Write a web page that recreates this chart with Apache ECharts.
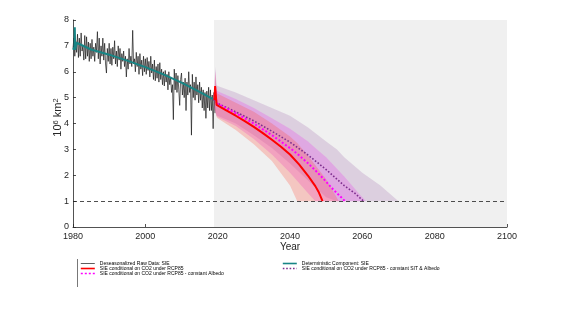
<!DOCTYPE html>
<html>
<head>
<meta charset="utf-8">
<script src="https://cdn.jsdelivr.net/npm/echarts@6/dist/echarts.min.js"></script>
<style>
html,body{margin:0;padding:0;background:#fff;}
#chart{width:561px;height:316px;}
</style>
</head>
<body>
<div id="chart"></div>
<script>
// ---------- DATA ----------
const xTicks = [1980, 2000, 2020, 2040, 2060, 2080, 2100];
const yTicks = [0, 1, 2, 3, 4, 5, 6, 7, 8];

// Deseasonalized raw data (quarterly samples from 1980.0)
const rawStartYear = 1980;
const rawStep = 0.25;
const rawValues = [
  6.9, 7.3, 6.6, 7.2,
  6.75, 7.45, 6.55, 7.3,
  6.6, 7.5, 6.8, 7.0,
  6.45, 7.4, 6.5, 7.35,
  6.6, 7.15, 6.4, 7.1,
  6.5, 7.25, 6.6, 6.95,
  6.4, 7.1, 6.75, 7.55,
  6.5, 7.3, 6.3, 7.0,
  6.6, 7.3, 6.45, 7.1,
  6.3, 5.95, 6.9, 6.4,
  7.1, 6.3, 6.9, 6.25,
  6.95, 6.5, 7.2, 6.3,
  6.8, 6.2, 7.0, 6.45,
  6.9, 6.1, 6.7, 6.4,
  6.8, 6.2, 6.6, 5.8,
  6.5, 6.1, 6.9, 6.3,
  6.6, 6.2, 7.6, 6.3,
  6.5, 6.0, 6.75, 6.2,
  6.6, 5.9, 6.7, 6.1,
  6.45, 5.85, 6.6, 6.0,
  6.5, 5.9, 6.55, 6.05,
  6.4, 5.8, 6.6, 5.95,
  6.3, 5.7, 6.45, 5.65,
  6.2, 5.75, 6.3, 5.6,
  6.35, 5.7, 6.1, 5.5,
  6.0, 5.45, 6.05, 5.6,
  5.9, 5.3, 6.0, 5.5,
  5.8, 5.2, 5.5, 4.15,
  6.1, 5.3, 5.95, 5.2,
  5.85, 5.3, 4.7, 5.7,
  5.95, 5.1, 5.6, 5.0,
  5.75, 4.5, 5.6, 5.1,
  6.0, 5.2, 5.5, 3.55,
  5.9, 5.0, 5.6, 4.9,
  5.8, 5.1, 5.5, 4.8,
  5.6, 4.9, 5.4, 4.6,
  5.3, 4.5, 5.2, 4.2,
  5.25, 4.6, 5.4, 4.5,
  5.3, 4.5, 5.1, 3.8,
  5.2, 4.4
];

// Deterministic component
const detYears  = [1980.0, 1980.4, 1980.5, 1980.6, 1981.0, 1981.4, 1985, 1990, 1995, 2000, 2005, 2010, 2015, 2019.2];
const detValues = [6.85,   6.95,   7.72,   6.85,   7.12,   7.05,   6.86, 6.66, 6.43, 6.18, 5.9,  5.58, 5.22, 4.9];

// SIE conditional on CO2 under RCP85
const redYears  = [2019.1, 2019.3, 2019.7, 2020, 2022.5, 2025, 2027.5, 2030, 2032.5, 2035, 2037.5, 2040, 2042.5, 2045, 2047, 2048, 2049];
const redValues = [4.9,    5.45,   4.72,   4.68, 4.5,    4.3,  4.09,   3.87, 3.63,   3.37, 3.1,    2.8,  2.42,   1.98, 1.58, 1.33, 1.0];

// ... constant Albedo
const magYears  = [2019.1, 2019.3, 2019.7, 2020, 2025, 2030, 2035, 2040, 2042.5, 2045, 2047.5, 2050, 2052, 2054, 2055.2];
const magValues = [4.9,    5.3,    4.78,   4.73, 4.4,  4.0,  3.55, 3.05, 2.77,   2.46, 2.12,   1.75, 1.44, 1.17, 1.0];

// ... constant SIT & Albedo
const purYears  = [2019.1, 2019.3, 2019.7, 2020, 2025, 2030, 2035, 2040, 2045, 2050, 2055, 2058, 2060.3];
const purValues = [4.9,    5.2,    4.8,    4.75, 4.45, 4.1,  3.7,  3.28, 2.78, 2.22, 1.6,  1.3,  1.0];

// Uncertainty bands (lower / upper)
const redBandYears = [2019.1, 2019.3, 2019.7, 2020, 2025, 2030, 2035, 2040, 2042, 2045, 2050, 2053.5];
const redBandLow   = [4.6,    4.5,    4.25,   4.2,  3.75, 3.2,  2.55, 1.6,  1.0,  1.0,  1.0,  1.0];
const redBandHigh  = [5.0,    6.0,    5.2,    5.15, 4.8,  4.45, 4.0,  3.5,  3.25, 2.75, 1.85, 1.0];

const magBandYears = [2019.1, 2019.3, 2019.7, 2020, 2025, 2030, 2035, 2040, 2045, 2047, 2050, 2055, 2059, 2061];
const magBandLow   = [4.6,    4.5,    4.3,    4.25, 3.9,  3.4,  2.8,  2.1,  1.3,  1.0,  1.0,  1.0,  1.0,  1.0];
const magBandHigh  = [5.0,    6.1,    5.3,    5.25, 4.95, 4.6,  4.2,  3.8,  3.3,  3.05, 2.7,  1.95, 1.3,  1.0];

const purBandYears = [2019.1, 2019.3, 2019.7, 2020, 2025, 2030, 2035, 2040, 2045, 2050, 2053, 2055, 2060, 2065, 2070];
const purBandLow   = [4.6,    4.5,    4.3,    4.3,  4.0,  3.55, 3.05, 2.45, 1.8,  1.15, 1.0,  1.0,  1.0,  1.0,  1.0];
const purBandHigh  = [5.0,    6.2,    5.5,    5.45, 5.2,  4.9,  4.6,  4.3,  3.85, 3.3,  3.0,  2.7,  2.1,  1.6,  1.0];

const forecastStart = 2019;
const threshold = 1;

const names = {
  raw: 'Deseasonalized Raw Data: SIE',
  det: 'Deterministic Component: SIE',
  red: 'SIE conditional on CO2 under RCP85',
  pur: 'SIE conditional on CO2 under RCP85 - constant SIT & Albedo',
  mag: 'SIE conditional on CO2 under RCP85 - constant Albedo'
};

// ---------- BUILD ----------
const pairs = (xs, ys) => xs.map((x, i) => [x, ys[i]]);
const rawData = rawValues.map((v, i) => [rawStartYear + i * rawStep, v]);

function bandSeries(id, xs, low, high, color) {
  return {
    name: id, type: 'custom', silent: true, z: 2,
    data: xs.map((x, i) => [x, low[i], high[i]]),
    encode: { x: 0, y: [1, 2] },
    renderItem: function (params, api) {
      if (params.dataIndex !== 0) return null;
      const pts = [];
      for (let i = 0; i < xs.length; i++) pts.push(api.coord([xs[i], high[i]]));
      for (let i = xs.length - 1; i >= 0; i--) pts.push(api.coord([xs[i], low[i]]));
      return { type: 'polygon', shape: { points: pts }, style: { fill: color, stroke: null } };
    }
  };
}

const axisColor = '#262626';
const font = 'Liberation Sans, Helvetica, Arial, sans-serif';

const chart = echarts.init(document.getElementById('chart'), null, { renderer: 'canvas' });
chart.setOption({
  animation: false,
  backgroundColor: '#ffffff',
  textStyle: { fontFamily: font },
  grid: { left: 73, right: 54, top: 20, bottom: 89, containLabel: false },
  xAxis: {
    type: 'value', min: xTicks[0], max: xTicks[xTicks.length - 1], interval: 20,
    axisLine: { show: true, lineStyle: { color: axisColor, width: 0.8 } },
    axisTick: { show: true, inside: true, length: 3, lineStyle: { color: axisColor, width: 0.8 } },
    axisLabel: { fontSize: 9, color: axisColor, margin: 5, fontFamily: font, formatter: v => String(v) },
    splitLine: { show: false },
    name: 'Year', nameLocation: 'middle', nameGap: 15, nameMoveOverlap: false,
    nameTextStyle: { fontSize: 10, color: axisColor, fontFamily: font }
  },
  yAxis: {
    type: 'value', min: yTicks[0], max: yTicks[yTicks.length - 1], interval: 1,
    axisLine: { show: true, lineStyle: { color: axisColor, width: 0.8 } },
    axisTick: { show: true, inside: true, length: 3, lineStyle: { color: axisColor, width: 0.8 } },
    axisLabel: { fontSize: 9, color: axisColor, margin: 4, fontFamily: font, formatter: v => String(v) },
    splitLine: { show: false },
    name: '{b|10}{s|6}{b| km}{s|2}', nameLocation: 'middle', nameGap: 10, nameMoveOverlap: false,
    nameTextStyle: {
      color: axisColor, fontFamily: font, padding: [0, 0, 0, 12],
      rich: {
        b: { fontSize: 11, color: axisColor, fontFamily: font, lineHeight: 11, verticalAlign: 'bottom' },
        s: { fontSize: 7.5, color: axisColor, fontFamily: font, lineHeight: 8, verticalAlign: 'top' }
      }
    }
  },
  legend: [
    {
      left: 80, top: 261, orient: 'vertical', padding: 0, itemGap: 0,
      itemWidth: 14, itemHeight: 5,
      itemStyle: { opacity: 0 },
      textStyle: { fontSize: 5, lineHeight: 5, color: '#000', fontFamily: font },
      data: [
        { name: names.raw, lineStyle: { width: 0.7 } },
        { name: names.red, lineStyle: { width: 1.6 } },
        { name: names.mag, lineStyle: { width: 1.6 } }
      ]
    },
    {
      left: 282, top: 261, orient: 'vertical', padding: 0, itemGap: 0,
      itemWidth: 14, itemHeight: 5,
      itemStyle: { opacity: 0 },
      textStyle: { fontSize: 5, lineHeight: 5, color: '#000', fontFamily: font },
      data: [
        { name: names.det, lineStyle: { width: 1.6 } },
        { name: names.pur, lineStyle: { width: 1.4 } }
      ]
    }
  ],
  graphic: [
    { type: 'line', shape: { x1: 77.5, y1: 259, x2: 77.5, y2: 287 }, style: { stroke: '#555', lineWidth: 0.8 }, silent: true }
  ],
  series: [
    {
      name: names.raw, type: 'line', data: rawData, symbol: 'none', z: 1,
      lineStyle: { color: '#1a1a1a', width: 0.7 }, itemStyle: { color: '#1a1a1a' },
      markArea: {
        silent: true, itemStyle: { color: '#f0f0f0' },
        data: [[{ xAxis: forecastStart }, { xAxis: xTicks[xTicks.length - 1] }]]
      }
    },
    bandSeries('pb', purBandYears, purBandLow, purBandHigh, 'rgba(126,47,142,0.17)'),
    bandSeries('mb', magBandYears, magBandLow, magBandHigh, 'rgba(235,70,235,0.28)'),
    bandSeries('rb', redBandYears, redBandLow, redBandHigh, 'rgba(255,70,50,0.25)'),
    {
      name: names.det, type: 'line', data: pairs(detYears, detValues), symbol: 'none', z: 3,
      lineStyle: { color: '#178585', width: 2 }, itemStyle: { color: '#178585' }
    },
    {
      name: names.pur, type: 'line', data: pairs(purYears, purValues), symbol: 'none', z: 4,
      lineStyle: { color: '#7E2F8E', width: 1.6, type: [1.6, 1.8] }, itemStyle: { color: '#7E2F8E' }
    },
    {
      name: names.mag, type: 'line', data: pairs(magYears, magValues), symbol: 'none', z: 4,
      lineStyle: { color: '#ff00ff', width: 2, type: [2, 2] }, itemStyle: { color: '#ff00ff' }
    },
    {
      name: names.red, type: 'line', data: pairs(redYears, redValues), symbol: 'none', z: 4,
      lineStyle: { color: '#ff0000', width: 2 }, itemStyle: { color: '#ff0000' },
      markLine: {
        silent: true, symbol: ['none', 'none'], label: { show: false },
        lineStyle: { color: '#222', type: [4, 3], width: 0.8 },
        data: [{ yAxis: threshold }]
      }
    }
  ]
});
</script>
</body>
</html>
